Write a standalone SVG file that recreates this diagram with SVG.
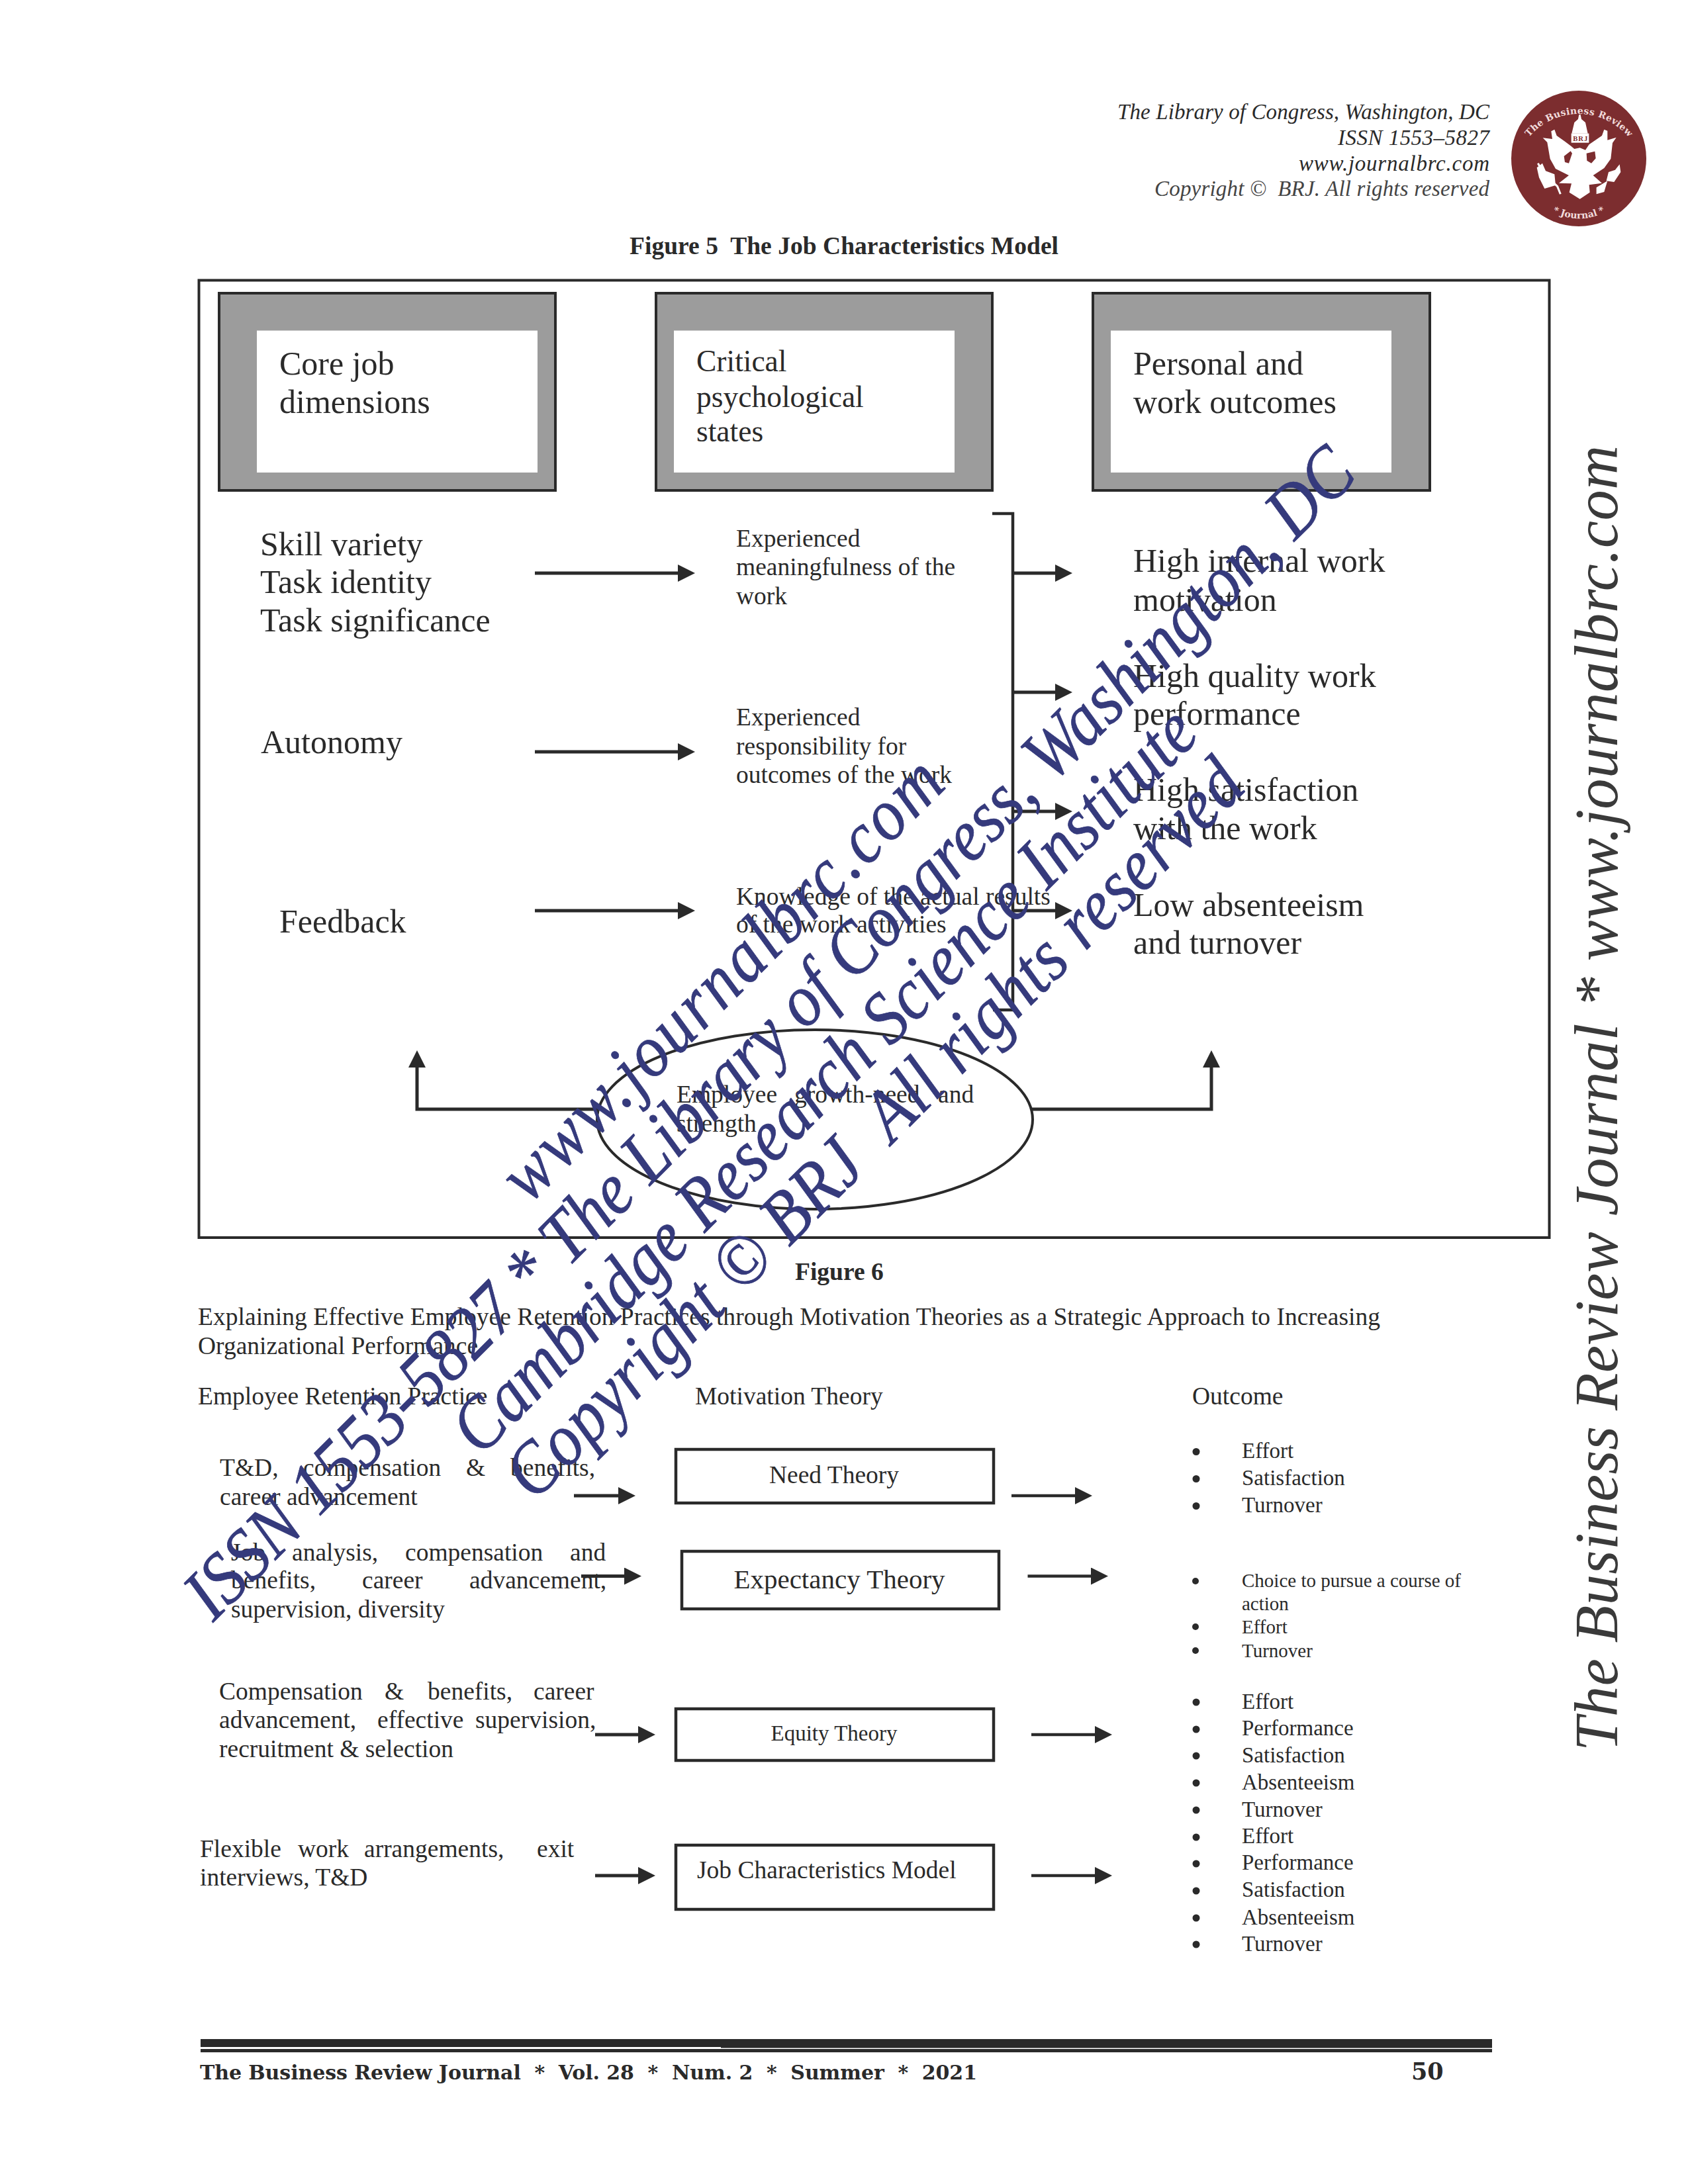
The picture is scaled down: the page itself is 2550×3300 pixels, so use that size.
<svg xmlns="http://www.w3.org/2000/svg" width="2550" height="3300" viewBox="0 0 2550 3300">
<style>
text{font-family:"Liberation Serif","Times New Roman",serif;fill:#2a2a2a;white-space:pre}
.t50{font-size:50px}.t45{font-size:45.5px}.t37{font-size:37.5px}.t33{font-size:33px}.t29{font-size:29px}
.fig{font-size:37.5px;font-weight:bold}
.hdr{font-size:33px;font-style:italic;text-anchor:end}
.box{fill:#9c9c9c;stroke:#2a2a2a;stroke-width:4}.inner{fill:#fff}
.frame{fill:#fff;stroke:#2a2a2a;stroke-width:4}
.tb{fill:#fff;stroke:#2a2a2a;stroke-width:4.5}
.ln{fill:none;stroke:#2a2a2a;stroke-width:4.5}
.ar{fill:none;stroke:#2a2a2a;stroke-width:5;marker-end:url(#ah)}
.bl{fill:#2a2a2a}
.wm{font-size:100px;font-style:italic;fill:#353a7c;stroke:#353a7c;stroke-width:.7px}
.side{font-size:92.5px;font-style:italic;fill:#3a3a3a}
.foot{font-family:"DejaVu Serif",serif;font-weight:bold;font-size:30px}
.lg{font-family:"DejaVu Serif",serif;font-weight:bold;fill:#f2dcdc}
.wh{fill:#fff}
</style>
<defs>
<marker id="ah" markerUnits="userSpaceOnUse" markerWidth="27" markerHeight="27" refX="1" refY="13" orient="auto"><path d="M0,0L26,13L0,26Z" fill="#2a2a2a"/></marker>
<path id="arcTop" d="M2310,207A98,98 0 0 1 2460,207"/>
<path id="arcBot" d="M2338,316A85,85 0 0 0 2432,316"/>
</defs>
<rect width="2550" height="3300" fill="#fff"/>

<g id="header">
<text class="hdr" x="2250" y="180" textLength="562">The Library of Congress, Washington, DC</text>
<text class="hdr" x="2250" y="219" textLength="229">ISSN 1553–5827</text>
<text class="hdr" x="2250" y="258" textLength="288">www.journalbrc.com</text>
<text class="hdr" x="2250" y="296" textLength="506" style="fill:#444">Copyright ©  BRJ. All rights reserved</text>
</g>

<g id="logo">
<ellipse cx="2385" cy="239.5" rx="102" ry="102.5" fill="#7c2d2f"/>
<text class="lg" font-size="14"><textPath href="#arcTop" textLength="171">The Business Review</textPath></text>
<text class="lg" font-size="14"><textPath href="#arcBot" startOffset="50%" text-anchor="middle">* Journal *</textPath></text>
<g transform="translate(2280,130) scale(.3333)">
<path class="wh" fill-rule="evenodd" d="M152,235L195,240L190,205L205,197L215,225L250,250L280,272L295,285L320,280L345,290L362,265L420,225L430,197L445,203L445,245L485,233L468,258L460,330L430,372L380,405L420,440L362,448L365,482L320,512L272,482L282,442L225,440L270,405L210,375L185,330L172,255ZM248,318L252,345L270,350L285,305L278,295ZM350,305L352,338L372,350L392,328L388,296Z"/>
<path class="wh" d="M316,130L323,130L327,150L345,165L356,215L283,215L295,165L312,150Z"/>
<rect class="wh" x="281" y="215" width="80" height="42"/>
<path d="M130,350L155,395L218,455L232,490" fill="none" stroke="#fff" stroke-width="9"/>
<path class="wh" d="M125,370L150,350L165,385L205,400L210,450L160,465L135,415Z"/>
<path class="wh" d="M500,355L505,390L475,435L440,430L450,390L480,380Z"/>
<path class="wh" d="M445,430L430,480L395,490L395,460Z"/>
<text x="289" y="248" font-size="32" font-weight="bold" style="fill:#7c2d2f;font-family:'Liberation Serif',serif" textLength="66">BRJ</text>
</g>
</g>

<text id="fig5" class="fig" x="951" y="384" textLength="648">Figure 5  The Job Characteristics Model</text>

<g id="frame"><rect class="frame" x="300.5" y="423.5" width="2040" height="1446.500"/></g>

<g id="core-box"><rect class="box" x="331" y="443" width="508" height="298"/><rect class="inner" x="388" y="499.500" width="424" height="214.500"/>
<text class="t50" x="422" y="566">Core job</text><text class="t50" x="422" y="624">dimensions</text></g>
<g id="critical-box"><rect class="box" x="991" y="443" width="508" height="298"/><rect class="inner" x="1018" y="499.500" width="424" height="214.500"/>
<text class="t45" x="1052" y="561">Critical</text><text class="t45" x="1052" y="615">psychological</text><text class="t45" x="1052" y="667">states</text></g>
<g id="outcomes-box"><rect class="box" x="1651" y="443" width="509" height="298"/><rect class="inner" x="1678" y="499.500" width="424" height="214.500"/>
<text class="t50" x="1712" y="566">Personal and</text><text class="t50" x="1712" y="624">work outcomes</text></g>

<g id="dim1"><text class="t50" x="393" y="839">Skill variety</text><text class="t50" x="393" y="896">Task identity</text><text class="t50" x="393" y="954">Task significance</text></g>
<g id="dim2"><text class="t50" x="394" y="1138">Autonomy</text></g>
<g id="dim3"><text class="t50" x="422" y="1409">Feedback</text></g>
<g id="state1"><text class="t37" x="1112" y="826">Experienced</text><text class="t37" x="1112" y="869">meaningfulness of the</text><text class="t37" x="1112" y="913">work</text></g>
<g id="state2"><text class="t37" x="1112" y="1096">Experienced</text><text class="t37" x="1112" y="1140">responsibility for</text><text class="t37" x="1112" y="1183">outcomes of the work</text></g>
<g id="state3"><text class="t37" x="1112" y="1367">Knowledge of the actual results</text><text class="t37" x="1112" y="1409">of the work activities</text></g>
<g id="out1"><text class="t50" x="1712" y="864">High internal work</text><text class="t50" x="1712" y="923">motivation</text></g>
<g id="out2"><text class="t50" x="1712" y="1038">High quality work</text><text class="t50" x="1712" y="1095">performance</text></g>
<g id="out3"><text class="t50" x="1712" y="1210">High satisfaction</text><text class="t50" x="1712" y="1268">with the work</text></g>
<g id="out4"><text class="t50" x="1712" y="1384">Low absenteeism</text><text class="t50" x="1712" y="1441">and turnover</text></g>

<g id="connectors">
<path class="ar" d="M808,866H1025"/><path class="ar" d="M808,1136H1025"/><path class="ar" d="M808,1376H1025"/>
<path class="ln" d="M1499,776H1530V1526H1500"/>
<path class="ar" d="M1530,866H1595"/><path class="ar" d="M1530,1046H1595"/><path class="ar" d="M1530,1226H1595"/><path class="ar" d="M1530,1376H1595"/>
<path class="ar" d="M905,1676H630V1612"/><path class="ar" d="M1558,1676H1830V1612"/>
<path class="ar" d="M867,2260H935"/><path class="ar" d="M878,2381.500H944"/><path class="ar" d="M899,2621H965"/><path class="ar" d="M899,2834H965"/>
<path class="ar" d="M1528,2260H1625" style="stroke-width:4.500"/><path class="ar" d="M1552.500,2381.500H1649" style="stroke-width:4.500"/><path class="ar" d="M1558,2621H1655" style="stroke-width:4.500"/><path class="ar" d="M1558,2834H1655" style="stroke-width:4.500"/>
</g>

<g id="moderator"><ellipse cx="1231" cy="1691.500" rx="329" ry="135.500" fill="none" stroke="#2a2a2a" stroke-width="4"/>
<text class="t37" y="1666"><tspan x="1022">Employee</tspan><tspan x="1200">growth-need</tspan><tspan x="1417">and</tspan></text>
<text class="t37" x="1022" y="1710">strength</text></g>

<text id="fig6" class="fig" x="1201" y="1934">Figure 6</text>
<g id="caption"><text class="t37" x="299" y="2002" textLength="1786">Explaining Effective Employee Retention Practices through Motivation Theories as a Strategic Approach to Increasing</text>
<text class="t37" x="299" y="2046">Organizational Performance</text></g>
<g id="columns"><text class="t37" x="299" y="2122">Employee Retention Practice</text><text class="t37" x="1050" y="2122">Motivation Theory</text><text class="t37" x="1801" y="2122">Outcome</text></g>

<g id="practice1"><text class="t37" y="2230"><tspan x="332">T&amp;D,</tspan><tspan x="458">compensation</tspan><tspan x="704">&amp;</tspan><tspan x="771">benefits,</tspan></text><text class="t37" x="332" y="2274">career advancement</text></g>
<g id="practice2"><text class="t37" y="2358"><tspan x="349">Job</tspan><tspan x="441">analysis,</tspan><tspan x="612">compensation</tspan><tspan x="861">and</tspan></text>
<text class="t37" y="2400"><tspan x="349">benefits,</tspan><tspan x="547">career</tspan><tspan x="709">advancement,</tspan></text><text class="t37" x="349" y="2444">supervision, diversity</text></g>
<g id="practice3"><text class="t37" y="2568"><tspan x="331">Compensation</tspan><tspan x="581">&amp;</tspan><tspan x="646">benefits,</tspan><tspan x="806">career</tspan></text>
<text class="t37" y="2611"><tspan x="331">advancement,</tspan><tspan x="570">effective</tspan><tspan x="718">supervision,</tspan></text><text class="t37" x="331" y="2655">recruitment &amp; selection</text></g>
<g id="practice4"><text class="t37" y="2806"><tspan x="302">Flexible</tspan><tspan x="450">work</tspan><tspan x="550">arrangements,</tspan><tspan x="811">exit</tspan></text><text class="t37" x="302" y="2849">interviews, T&amp;D</text></g>

<g id="need"><rect class="tb" x="1021" y="2190" width="480" height="81"/><text class="t37" x="1260" y="2241" text-anchor="middle">Need Theory</text></g>
<g id="expectancy"><rect class="tb" x="1030" y="2344" width="479" height="87"/><text x="1268" y="2400" font-size="41" text-anchor="middle">Expectancy Theory</text></g>
<g id="equity"><rect class="tb" x="1021" y="2582" width="480" height="78"/><text class="t33" x="1260" y="2630" text-anchor="middle">Equity Theory</text></g>
<g id="jcm"><rect class="tb" x="1021" y="2788" width="480" height="97"/><text class="t37" x="1053" y="2838">Job Characteristics Model</text></g>

<g id="outcome1" class="t33"><circle class="bl" cx="1807" cy="2193.500" r="5.500"/><circle class="bl" cx="1807" cy="2234.500" r="5.500"/><circle class="bl" cx="1807" cy="2275.500" r="5.500"/>
<text x="1876" y="2203">Effort</text><text x="1876" y="2244">Satisfaction</text><text x="1876" y="2285">Turnover</text></g>
<g id="outcome2" class="t29"><circle class="bl" cx="1806" cy="2389" r="5"/><circle class="bl" cx="1806" cy="2458" r="5"/><circle class="bl" cx="1806" cy="2494" r="5"/>
<text x="1876" y="2398">Choice to pursue a course of</text><text x="1876" y="2433">action</text><text x="1876" y="2468">Effort</text><text x="1876" y="2504">Turnover</text></g>
<g id="outcome3" class="t33"><circle class="bl" cx="1807" cy="2572" r="5.500"/><circle class="bl" cx="1807" cy="2613" r="5.500"/><circle class="bl" cx="1807" cy="2653" r="5.500"/><circle class="bl" cx="1807" cy="2694" r="5.500"/><circle class="bl" cx="1807" cy="2735" r="5.500"/>
<text x="1876" y="2581.500">Effort</text><text x="1876" y="2622">Performance</text><text x="1876" y="2663">Satisfaction</text><text x="1876" y="2704">Absenteeism</text><text x="1876" y="2744.500">Turnover</text></g>
<g id="outcome4" class="t33"><circle class="bl" cx="1807" cy="2776" r="5.500"/><circle class="bl" cx="1807" cy="2816" r="5.500"/><circle class="bl" cx="1807" cy="2857" r="5.500"/><circle class="bl" cx="1807" cy="2898" r="5.500"/><circle class="bl" cx="1807" cy="2938" r="5.500"/>
<text x="1876" y="2785">Effort</text><text x="1876" y="2825">Performance</text><text x="1876" y="2866">Satisfaction</text><text x="1876" y="2907.500">Absenteeism</text><text x="1876" y="2947.500">Turnover</text></g>

<g id="footer"><rect class="bl" x="303" y="3081" width="1951" height="12"/><rect class="bl" x="1089" y="3093" width="1165" height="1.500"/><rect class="bl" x="303" y="3096" width="1951" height="5"/>
<text class="foot" x="302" y="3142" textLength="1174">The Business Review Journal  *  Vol. 28  *  Num. 2  *  Summer  *  2021</text>
<text class="foot" x="2132" y="3142" style="font-size:35px">50</text></g>

<g id="watermark">
<text class="side" transform="translate(2443,2646) rotate(-90)" textLength="1973">The Business Review Journal * www.journalbrc.com</text>
<text class="wm" transform="translate(799,1821) rotate(-45) scale(1,1.12)" textLength="895">www.journalbrc.com</text>
<text class="wm" transform="translate(322,2452) rotate(-45) scale(1,1.12)" textLength="2449">ISSN 1553-5827 * The Library of Congress, Washington, DC</text>
<text class="wm" transform="translate(726,2202) rotate(-45) scale(1,1.12)" textLength="1540">Cambridge Research Science Institute</text>
<text class="wm" transform="translate(807,2270) rotate(-45) scale(1,1.12)" textLength="1525">Copyright © BRJ  All rights reserved</text>
</g>
</svg>
